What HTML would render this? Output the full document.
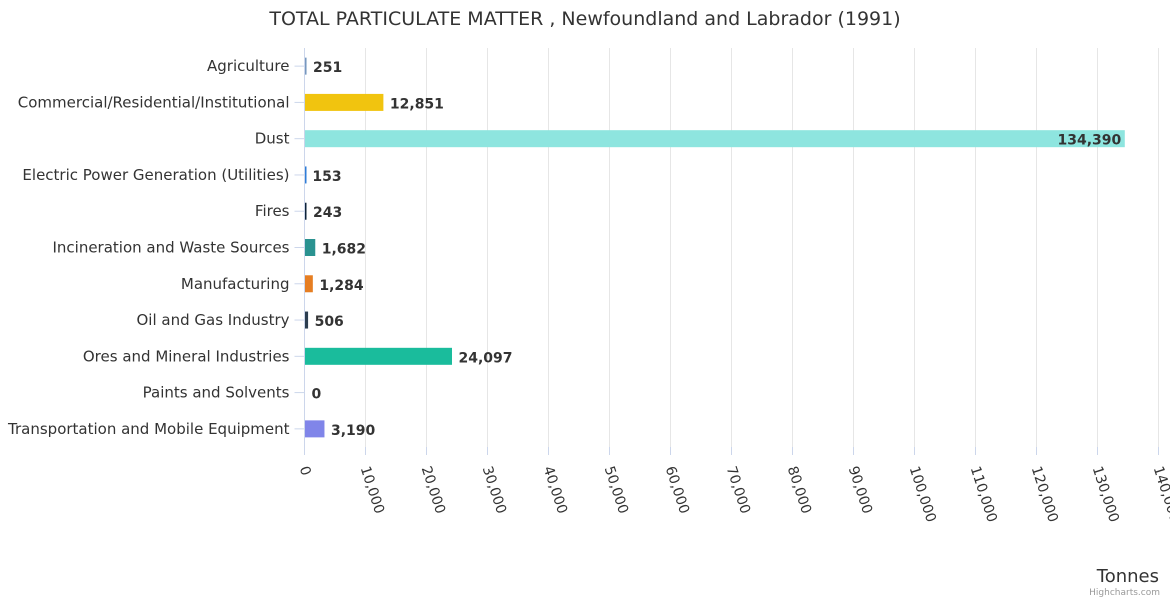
<!DOCTYPE html>
<html><head><meta charset="utf-8"><style>
body{margin:0;background:#fff;font-family:"Liberation Sans","DejaVu Sans",sans-serif;}
svg text{font-family:"DejaVu Sans","Liberation Sans",sans-serif;}
</style></head><body>
<svg id="c" width="1170" height="600" xmlns="http://www.w3.org/2000/svg">
<text x="585" y="25" text-anchor="middle" font-size="19" fill="#333">TOTAL PARTICULATE MATTER , Newfoundland and Labrador (1991)</text>
<g id="grid"></g><g id="bars"></g><g id="labels"></g>
<text x="1159" y="582" text-anchor="end" font-size="18" fill="#333">Tonnes</text>
<text x="1160" y="595" text-anchor="end" font-size="9" fill="#999">Highcharts.com</text>
</svg>
<script>
const categories=["Agriculture","Commercial/Residential/Institutional","Dust","Electric Power Generation (Utilities)","Fires","Incineration and Waste Sources","Manufacturing","Oil and Gas Industry","Ores and Mineral Industries","Paints and Solvents","Transportation and Mobile Equipment"];
const values=[251,12851,134390,153,243,1682,1284,506,24097,0,3190];
const colors=["#7798bf","#f1c40f","#8ee5df","#2f7ed8","#0d233a","#2a9290","#e67e22","#2c3e50","#1abc9c","#95a5a6","#8085e9"];
const ticks=[0,10000,20000,30000,40000,50000,60000,70000,80000,90000,100000,110000,120000,130000,140000];
const NS="http://www.w3.org/2000/svg";
const x0=304.5,x1=1158.5,yTop=48,yBot=447,xmax=140000;
const xs=v=>x0+(v/xmax)*(x1-x0);
const band=(yBot-yTop)/categories.length;
const yc=i=>yTop+band*(i+0.5);
function mk(t,a,p){const e=document.createElementNS(NS,t);for(const k in a)e.setAttribute(k,a[k]);p.appendChild(e);return e;}
const g=document.getElementById('grid'),b=document.getElementById('bars'),l=document.getElementById('labels');
const fmt=v=>v.toLocaleString('en-US');
ticks.forEach(t=>{
 const ln=mk('line',{x1:xs(t),x2:xs(t),y1:yTop,y2:yBot,stroke:t===0?'#ccd6eb':'#e6e6e6','stroke-width':1},g);
 
 
 const x=xs(t)-5,y=yBot+21;
 const tx=mk('text',{x:x,y:y,'font-size':14,fill:'#333',transform:`rotate(72 ${x} ${y})`},l);
 tx.textContent=fmt(t);
 
 
 const tk=mk('line',{x1:xs(t),x2:xs(t),y1:yBot,y2:yBot+8,stroke:'#ccd6eb'},g);
 
 
});
categories.forEach((c,i)=>{
 const y=yc(i);
 const tk=mk('line',{x1:x0-10,x2:x0,y1:y,y2:y,stroke:'#ccd6eb'},g);
 
 
 const lb=mk('text',{x:x0-15,y:y+5,'text-anchor':'end','font-size':15,fill:'#333'},l);
 lb.textContent=c;
 
 
 const w=Math.max(xs(values[i])-x0,values[i]>0?1.5:0);
 const r=mk('rect',{x:x0+0.5,y:y-8.5,width:w,height:17,fill:colors[i]},b);
 
 
 const inside=xs(values[i])>x1-80;
 const vt=mk('text',{x:inside?xs(values[i])-3:xs(values[i])+7,y:y+6,'text-anchor':inside?'end':'start','font-size':14,'font-weight':'bold',fill:'#333'},l);
 vt.textContent=fmt(values[i]);
 
 
});
</script>
</body></html>
